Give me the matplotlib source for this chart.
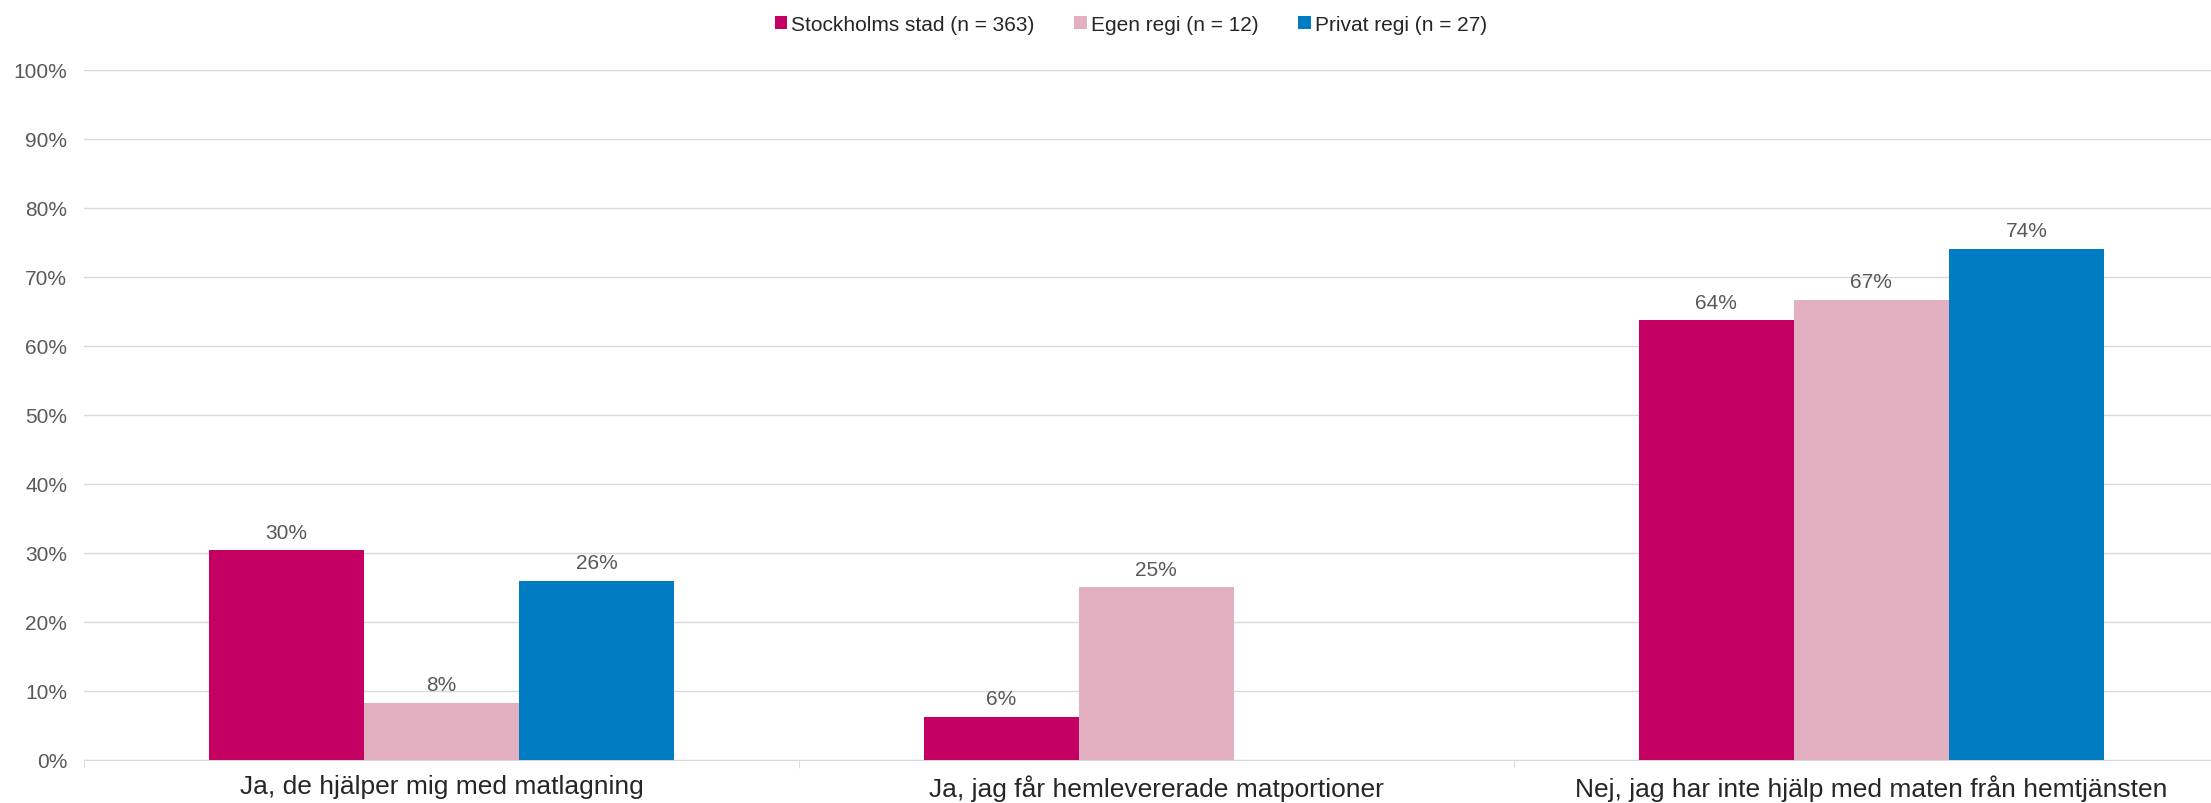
import numpy as np
import matplotlib.pyplot as plt

plt.rcParams['font.family'] = ['Liberation Sans', 'DejaVu Sans']

categories = ['Ja, de hjälper mig med matlagning',
              'Ja, jag får hemlevererade matportioner',
              'Nej, jag har inte hjälp med maten från hemtjänsten']
series = ['Stockholms stad (n = 363)', 'Egen regi (n = 12)', 'Privat regi (n = 27)']
stockholm = [30.4, 6.3, 63.7]
egen = [8.3, 25.0, 66.7]
privat = [26.0, 0.0, 74.1]
colors = ['#C40062', '#E2B0C0', '#007CC3']

txt = '#595959'
fig = plt.figure(figsize=(22.11, 8.04), dpi=100)
# plot area runs past the right edge, like the cropped original
ax = fig.add_axes([0.038, 0.0535, 0.970, 0.8585])

x = np.arange(len(categories))
w = 0.217
for k, (vals, name, c) in enumerate(zip([stockholm, egen, privat], series, colors)):
    pos = x + (k - 1) * w
    ax.bar(pos, vals, w, color=c, label=name, zorder=3)
    for p, v in zip(pos, vals):
        if v > 0:
            ax.text(p, v + 1.2, '%d%%' % round(v), ha='center', va='bottom',
                    fontsize=15, color=txt)

ax.set_ylim(0, 100)
ax.set_xlim(-0.5, 2.5)
ax.set_yticks(np.arange(0, 101, 10))
ax.set_yticklabels(['%d%%' % t for t in range(0, 101, 10)])
ax.set_xticks(x)
ax.set_xticklabels(categories, fontsize=19, color='#262626')
ax.set_xticks([-0.5, 0.5, 1.5, 2.5], minor=True)
ax.tick_params(axis='x', which='major', length=0, pad=10)
ax.tick_params(axis='x', which='minor', length=6, color='#D9D9D9')
ax.tick_params(axis='y', length=0, labelsize=15, labelcolor=txt, pad=12)
ax.grid(axis='y', color='#D9D9D9', linewidth=1, zorder=0)
for s in ['top', 'right', 'left']:
    ax.spines[s].set_visible(False)
ax.spines['bottom'].set_color('#D9D9D9')

ax.legend(loc='lower center', bbox_to_anchor=(0.5115, 0.9335), bbox_transform=fig.transFigure,
          ncol=3, frameon=False,
          fontsize=15, handlelength=0.6, handleheight=0.6, handletextpad=0.2,
          columnspacing=1.9, labelcolor='#262626')

fig.savefig('out.png', dpi=100)
